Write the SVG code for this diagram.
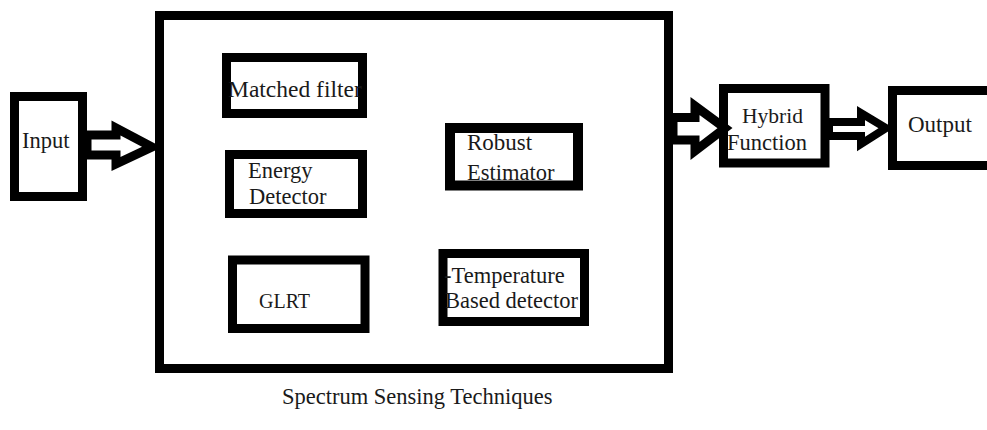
<svg xmlns="http://www.w3.org/2000/svg" width="987" height="430" viewBox="0 0 987 430">
<style>
.box{fill:#fff;stroke:#000;stroke-width:9}
.arrow{fill:#fff;stroke:#000;stroke-width:9;stroke-linejoin:miter}
.t{font-family:"Liberation Serif","Times New Roman",serif;font-size:22.5px;fill:#1a1a1a}
</style>
<rect width="987" height="430" fill="#fff"/>
<g id="spectrum-sensing">
<rect class="box" x="159.5" y="15.5" width="509" height="353"/>
</g>
<g id="input">
<rect class="box" x="14.5" y="96.5" width="68" height="100"/>
<text class="t" x="22" y="148" font-family="Liberation Serif">Input</text>
</g>
<g id="matched-filter">
<rect class="box" x="226.5" y="57.5" width="136" height="56"/>
<text class="t" x="228" y="97" font-family="Liberation Serif" style="font-size:23.5px">Matched filter</text>
</g>
<g id="energy-detector">
<rect class="box" x="229.5" y="154.5" width="133" height="59"/>
<text class="t" x="248" y="178" font-family="Liberation Serif">Energy</text>
<text class="t" x="249" y="204" font-family="Liberation Serif">Detector</text>
</g>
<g id="robust-estimator">
<rect class="box" x="450" y="128" width="128" height="57.5" style="stroke-width:10"/>
<text class="t" x="467" y="150" font-family="Liberation Serif" style="font-size:23px">Robust</text>
<text class="t" x="467" y="180" font-family="Liberation Serif">Estimator</text>
</g>
<g id="glrt">
<rect class="box" x="232.5" y="260" width="132.5" height="68.5"/>
<text class="t" x="259" y="308" font-family="Liberation Serif" style="font-size:20px">GLRT</text>
</g>
<g id="temperature-detector">
<rect class="box" x="443" y="253.5" width="141.5" height="68"/>
<text class="t" x="444" y="283" font-family="Liberation Serif">-Temperature</text>
<text class="t" x="445" y="308" font-family="Liberation Serif">Based detector</text>
</g>
<g id="hybrid-function">
<rect class="box" x="723.5" y="88.5" width="101.5" height="74.5"/>
<text class="t" x="742" y="123" font-family="Liberation Serif" style="font-size:21.5px">Hybrid</text>
<text class="t" x="727" y="150" font-family="Liberation Serif">Function</text>
</g>
<g id="output">
<rect class="box" x="892.5" y="90.5" width="110" height="75"/>
<text class="t" x="908" y="132" font-family="Liberation Serif" style="font-size:23px">Output</text>
</g>
<g id="connectors">
<polygon class="arrow" points="87,135 116,135 116,128 152,147 116,164 116,155 87,155"/>
<polygon class="arrow" points="673,117.5 695,117.5 695,106 725,128 695,151 695,140 673,140"/>
<polygon class="arrow" points="829,122 861,122 861,113 886,128 861,144 861,136 829,136" style="stroke-width:8"/>
</g>
<g id="caption">
<text class="t" x="282" y="404" font-family="Liberation Serif">Spectrum Sensing Techniques</text>
</g>
</svg>
